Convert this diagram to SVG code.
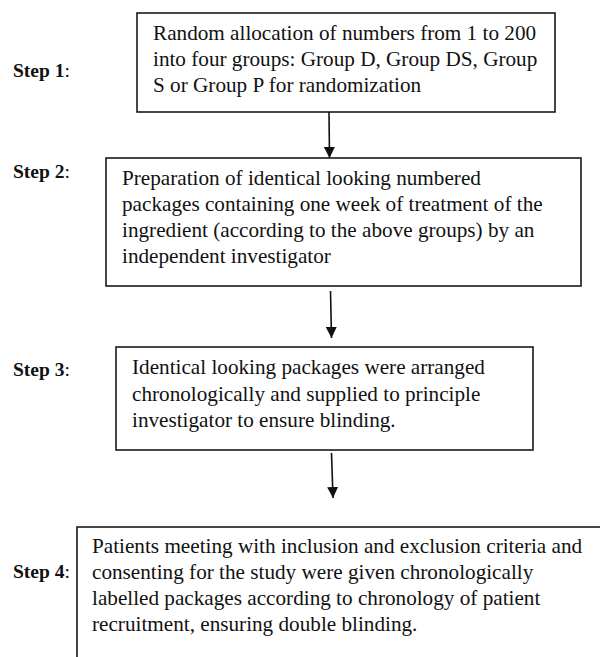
<svg xmlns="http://www.w3.org/2000/svg" width="600" height="657" viewBox="0 0 600 657">
<style>
.box{fill:#fff;stroke:#1a1a1a;stroke-width:1.6}
.t{font-family:"Liberation Serif","Times New Roman",serif;font-size:21.2px;fill:#111}
.s{font-family:"Liberation Serif","Times New Roman",serif;font-size:19.5px;fill:#111}
.b{font-weight:bold}
.c{fill:none;stroke:#111;stroke-width:1.6}
</style>
<defs>
<marker id="ah" viewBox="0 0 10 10" refX="10" refY="5" markerWidth="11" markerHeight="11" markerUnits="userSpaceOnUse" orient="auto">
<path d="M0,0 L10,5 L0,10 z" fill="#111"/>
</marker>
</defs>
<rect width="600" height="657" fill="#fff"/>
<g id="labels">
<text class="s" x="13" y="77"><tspan class="b">Step 1</tspan>:</text>
<text class="s" x="13" y="178"><tspan class="b">Step 2</tspan>:</text>
<text class="s" x="13" y="376"><tspan class="b">Step 3</tspan>:</text>
<text class="s" x="13" y="578"><tspan class="b">Step 4</tspan>:</text>
</g>
<g id="step1">
<rect class="box" x="137" y="13" width="418" height="99"/>
<text class="t" x="153" y="40">Random allocation of numbers from 1 to 200</text>
<text class="t" x="153" y="66">into four groups: Group D, Group DS, Group</text>
<text class="t" x="153" y="92">S or Group P for randomization</text>
</g>
<g id="step2">
<rect class="box" x="106" y="158" width="475" height="128"/>
<text class="t" x="122" y="185">Preparation of identical looking numbered</text>
<text class="t" x="122" y="211">packages containing one week of treatment of the</text>
<text class="t" x="122" y="237">ingredient (according to the above groups) by an</text>
<text class="t" x="122" y="263">independent investigator</text>
</g>
<g id="step3">
<rect class="box" x="116" y="347" width="417" height="103"/>
<text class="t" x="132" y="374">Identical looking packages were arranged</text>
<text class="t" x="132" y="400.5">chronologically and supplied to principle</text>
<text class="t" x="132" y="427">investigator to ensure blinding.</text>
</g>
<g id="step4">
<rect class="box" x="77" y="527" width="540" height="150"/>
<text class="t" x="92" y="553">Patients meeting with inclusion and exclusion criteria and</text>
<text class="t" x="92" y="579">consenting for the study were given chronologically</text>
<text class="t" x="92" y="605">labelled packages according to chronology of patient</text>
<text class="t" x="92" y="631">recruitment, ensuring double blinding.</text>
</g>
<g id="connectors">
<line class="c" x1="329" y1="112" x2="329.5" y2="158" marker-end="url(#ah)"/>
<line class="c" x1="330.5" y1="291" x2="331.5" y2="338" marker-end="url(#ah)"/>
<line class="c" x1="331.5" y1="453" x2="333" y2="498" marker-end="url(#ah)"/>
</g>
</svg>
